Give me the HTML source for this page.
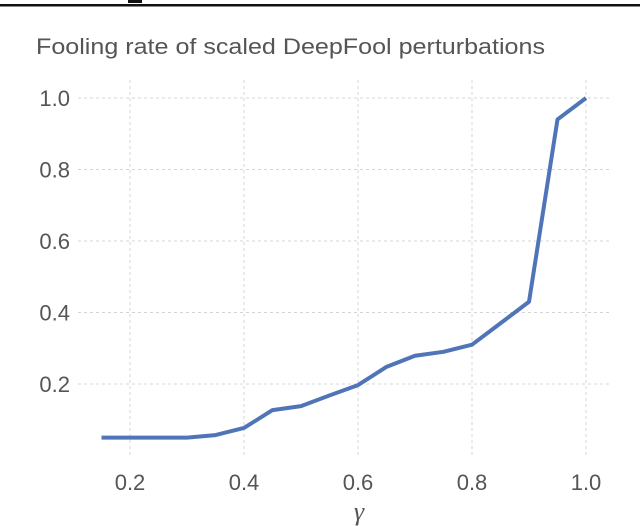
<!DOCTYPE html>
<html><head><meta charset="utf-8"><style>
html,body{margin:0;padding:0;background:#fff;width:640px;height:526px;overflow:hidden}
svg text{font-family:"Liberation Sans",sans-serif;fill:#555}
</style></head><body>
<svg id="chart" width="640" height="526">
<rect x="0" y="4" width="640" height="2.5" fill="#111"/>
<rect x="128" y="0" width="14" height="3" fill="#111"/>
<text x="36" y="54" font-size="22" textLength="509" lengthAdjust="spacingAndGlyphs">Fooling rate of scaled DeepFool perturbations</text>
<g id="grid"></g><g id="ticks"></g>
<text x="359" y="520" font-size="26" font-style="italic" text-anchor="middle" style="font-family:'Liberation Serif',serif">γ</text>
<path id="line" fill="none" stroke="#4f74b8" stroke-width="4" stroke-linejoin="round"/>
</svg>
<script>
const gammas=[0.15,0.2,0.25,0.3,0.35,0.4,0.45,0.5,0.55,0.6,0.65,0.7,0.75,0.8,0.85,0.9,0.95,1.0];
const rates=[0.05,0.05,0.05,0.05,0.057,0.077,0.127,0.138,0.168,0.197,0.248,0.279,0.29,0.31,0.37,0.43,0.94,1.0];
const xTicks=[0.2,0.4,0.6,0.8,1.0];
const yTicks=[0.2,0.4,0.6,0.8,1.0];
const xs=v=>130+(v-0.2)*(586-130)/0.8;
const ys=v=>384-(v-0.2)*(384-98)/0.8;
const NS="http://www.w3.org/2000/svg";
const grid=document.getElementById('grid'),ticks=document.getElementById('ticks');
xTicks.forEach(t=>{
 const l=document.createElementNS(NS,'line');
 l.setAttribute('x1',xs(t));l.setAttribute('x2',xs(t));l.setAttribute('y1',80);l.setAttribute('y2',455);
 l.setAttribute('stroke','#d4d4d4');l.setAttribute('stroke-dasharray','3,3');
 
 
 grid.appendChild(l);
 const tx=document.createElementNS(NS,'text');
 tx.setAttribute('x',xs(t));tx.setAttribute('y',490);tx.setAttribute('font-size','22');tx.setAttribute('text-anchor','middle');
 tx.textContent=t.toFixed(1);
 
 
 ticks.appendChild(tx);
});
yTicks.forEach(t=>{
 const l=document.createElementNS(NS,'line');
 l.setAttribute('x1',78);l.setAttribute('x2',610);l.setAttribute('y1',ys(t));l.setAttribute('y2',ys(t));
 l.setAttribute('stroke','#d4d4d4');l.setAttribute('stroke-dasharray','3,3');
 
 
 grid.appendChild(l);
 const tx=document.createElementNS(NS,'text');
 tx.setAttribute('x',70);tx.setAttribute('y',ys(t)+8);tx.setAttribute('font-size','22');tx.setAttribute('text-anchor','end');
 tx.textContent=t.toFixed(1);
 
 
 ticks.appendChild(tx);
});
document.getElementById('line').setAttribute('d',gammas.map((g,i)=>(i?'L':'M')+xs(g)+','+ys(rates[i])).join(' '));
</script>
</body></html>
